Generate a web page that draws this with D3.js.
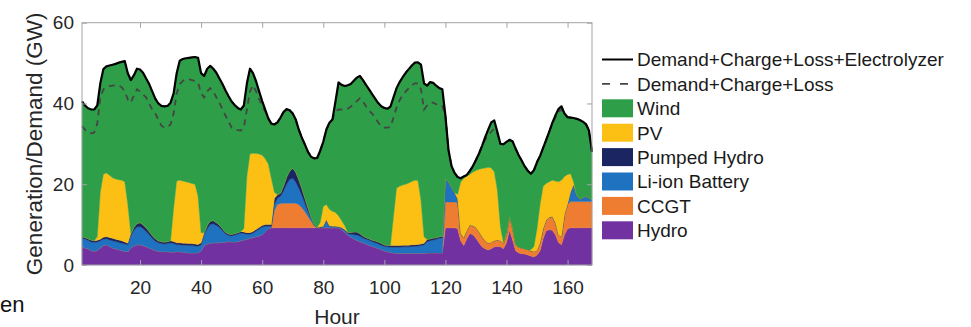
<!DOCTYPE html>
<html>
<head>
<meta charset="utf-8">
<script src="https://cdn.jsdelivr.net/npm/d3@7"></script>
<style>
  body { margin: 0; background: #fff; }
  svg { display: block; font-family: "Liberation Sans", Arial, sans-serif; }
</style>
</head>
<body>
<svg id="chart" width="971" height="327"></svg>
<script>
// hourly values, GW
const hours = d3.range(1, 169);

const hydro = [
  4.5, 4.2, 4.0, 3.6, 3.4, 3.6, 4.2, 4.8, 5.0, 4.6, 4.2, 4.0,
  3.8, 3.6, 3.4, 3.3, 4.2, 4.7, 5.0, 5.0, 4.8, 4.5, 4.2, 3.9,
  3.6, 3.4, 3.3, 3.3, 3.3, 3.2, 3.2, 3.3, 3.3, 3.2, 3.1, 3.0,
  3.0, 3.0, 3.0, 3.5, 4.8, 5.2, 5.4, 5.5, 5.5, 5.5, 5.6, 5.7,
  5.8, 5.7, 5.7, 5.8, 6.0, 6.2, 6.4, 6.6, 6.8, 7.0, 7.2, 7.5,
  8.2, 9.0, 9.2, 9.2, 9.2, 9.2, 9.2, 9.2, 9.2, 9.2, 9.2, 9.2,
  9.2, 9.2, 9.2, 9.2, 9.2, 9.2, 9.2, 9.2, 9.2, 9.2, 9.2, 9.2,
  9.2, 8.8, 8.2, 7.4, 6.9, 6.5, 6.1, 5.8, 5.5, 5.2, 4.9, 4.6,
  4.4, 4.1, 3.8, 3.5, 3.3, 3.1, 3.0, 2.9, 2.9, 2.9, 2.9, 2.9,
  2.9, 2.9, 2.9, 2.9, 2.9, 3.0, 3.0, 3.0, 3.0, 3.0, 3.0, 9.2,
  9.2, 9.2, 9.2, 9.0, 6.0, 4.8, 6.5, 7.8, 7.5, 6.6, 5.5, 4.5,
  4.0, 3.7, 4.0, 4.5, 4.6, 4.5, 4.0, 5.5, 8.6, 6.2, 3.5, 3.0,
  2.8, 2.7, 2.5, 2.2, 2.0, 2.5, 3.5, 6.5, 8.5, 8.7, 8.6, 7.5,
  5.6, 5.0, 7.5, 9.0, 9.2, 9.2, 9.2, 9.2, 9.2, 9.2, 9.2, 9.2
];

const ccgt = [
  0, 0, 0, 0, 0, 0, 0, 0, 0, 0, 0, 0,
  0, 0, 0, 0, 0, 0, 0, 0, 0, 0, 0, 0,
  0, 0, 0, 0, 0, 0, 0, 0, 0, 0, 0, 0,
  0, 0, 0, 0, 0, 0, 0, 0, 0, 0, 0, 0,
  0, 0, 0, 0, 0, 0, 0, 0, 0, 0, 0, 0,
  0, 0, 0, 4.3, 5.8, 6.0, 6.1, 6.1, 6.1, 6.1, 6.1, 5.8,
  5.0, 4.0, 2.8, 1.7, 0.5, 0, 0, 0, 0, 0, 0, 0,
  0, 0, 0, 0, 0, 0, 0, 0, 0, 0, 0, 0,
  0, 0, 0, 0, 0, 0, 0, 0, 0, 0, 0, 0,
  0, 0, 0, 0, 0, 0, 0, 0, 0, 0, 0, 6.4,
  6.4, 6.4, 6.4, 6.4, 1.8, 2.0, 2.0, 2.1, 2.2, 2.7, 2.7, 2.5,
  2.0, 1.7, 1.6, 1.5, 1.6, 1.5, 1.4, 2.0, 3.4, 2.9, 1.5, 1.4,
  1.4, 1.3, 1.3, 1.3, 1.3, 1.1, 2.0, 2.5, 2.6, 3.1, 3.4, 3.0,
  1.9, 2.0, 5.0, 6.0, 6.5, 6.5, 6.5, 6.5, 6.5, 6.5, 6.5, 6.5
];

const liion = [
  2.2, 2.2, 2.1, 2.1, 2.2, 2.1, 1.8, 1.6, 1.5, 1.6, 1.8, 1.8,
  1.8, 1.8, 1.8, 1.7, 3.0, 3.9, 4.4, 4.5, 4.2, 3.8, 3.3, 2.7,
  2.3, 2.1, 2.0, 1.9, 2.0, 2.3, 2.1, 1.7, 1.7, 1.7, 1.8, 1.8,
  1.8, 1.7, 1.6, 1.5, 2.7, 3.8, 4.6, 4.7, 4.3, 3.8, 2.9, 2.0,
  1.5, 1.5, 1.7, 1.8, 1.9, 1.6, 1.2, 1.0, 1.1, 1.4, 1.7, 1.9,
  1.4, 0.6, 0.4, 1.5, 1.5, 1.8, 3.0, 4.7, 5.9, 6.2, 5.2, 4.0,
  3.0, 2.0, 1.2, 0.6, 0.2, 0, 0.1, 0.3, 1.8, 0.4, 0.3, 0.3,
  0.2, 0.3, 0.4, 0.4, 0.7, 1.0, 1.3, 1.3, 1.2, 1.2, 1.2, 1.2,
  1.1, 1.1, 1.1, 1.1, 1.2, 1.3, 1.4, 1.5, 1.5, 1.6, 1.6, 1.6,
  1.7, 1.7, 1.8, 1.9, 2.1, 2.8, 3.0, 3.2, 3.4, 3.6, 3.7, 5.6,
  4.9, 3.6, 2.2, 0.9, 0, 0, 0, 0, 0, 0, 0, 0,
  0, 0, 0, 0, 0, 0, 0, 0, 0, 0, 0, 0,
  0, 0, 0, 0, 0, 0, 0, 0, 0, 0, 0, 0,
  0, 0, 0, 0, 2.3, 4.1, 1.5, 0.5, 0.9, 1.2, 0.8, 0.3
];

const pumped = [
  0.3, 0.4, 0.4, 0.5, 0.4, 0.4, 0.4, 0.5, 0.5, 0.6, 0.6, 0.6,
  0.6, 0.6, 0.5, 0.4, 0.6, 0.7, 0.9, 1.0, 1.0, 0.9, 0.8, 0.7,
  0.6, 0.5, 0.5, 0.5, 0.5, 0.5, 0.5, 0.5, 0.5, 0.5, 0.5, 0.5,
  0.5, 0.5, 0.5, 0.5, 0.5, 0.8, 0.9, 0.8, 0.7, 0.6, 0.5, 0.4,
  0.4, 0.4, 0.4, 0.4, 0.4, 0.4, 0.4, 0.4, 0.4, 0.4, 0.4, 0.4,
  0.4, 0.4, 0.4, 1.5, 0.9, 0.8, 1.3, 1.8, 2.1, 2.5, 2.5, 2.2,
  1.8, 1.4, 1.0, 0.5, 0.2, 0.1, 0.1, 0.1, 0.2, 0.1, 0.1, 0.1,
  0.1, 0.2, 0.2, 0.3, 0.5, 0.7, 0.8, 0.7, 0.5, 0.4, 0.4, 0.4,
  0.5, 0.5, 0.5, 0.4, 0.4, 0.4, 0.4, 0.4, 0.4, 0.4, 0.4, 0.4,
  0.4, 0.4, 0.4, 0.4, 0.4, 0.5, 0.5, 0.5, 0.4, 0.4, 0.4, 0.1,
  0.1, 0.1, 0.1, 0.1, 0, 0, 0, 0, 0, 0, 0, 0,
  0, 0, 0, 0, 0, 0, 0, 0, 0, 0, 0, 0,
  0, 0, 0, 0, 0, 0, 0, 0, 0, 0, 0, 0,
  0, 0, 0, 0, 0.1, 0.1, 0.1, 0.1, 0.1, 0.1, 0.1, 0.1
];

const pv = [
  0, 0, 0, 0, 0, 0.9, 11.6, 15.6, 15.8, 15.4, 15.0, 14.9,
  14.9, 15.0, 14.9, 9.6, 0, 0, 0, 0, 0, 0, 0, 0,
  0, 0, 0, 0, 0, 0, 8.2, 15.3, 15.5, 15.4, 15.2, 15.1,
  14.9, 14.8, 11.9, 2.5, 0, 0, 0, 0, 0, 0, 0, 0,
  0, 0, 0, 0, 0, 0.8, 14.0, 19.5, 19.4, 18.8, 18.2, 17.4,
  16.3, 15.0, 11.5, 1.5, 0, 0, 0, 0, 0, 0, 0, 0,
  0, 0, 0, 0, 0, 0, 1.1, 4.9, 3.8, 4.1, 3.7, 3.4,
  2.7, 1.7, 1.0, 0.1, 0, 0, 0, 0, 0, 0, 0, 0,
  0, 0, 0, 0, 0, 0, 7.2, 14.2, 14.7, 14.9, 15.1, 15.4,
  15.7, 16.0, 15.8, 10.8, 1.6, 0, 0, 0, 0, 0, 0, 0,
  0, 0, 0, 1.1, 12.7, 14.7, 13.5, 12.5, 13.3, 14.1, 15.5, 16.9,
  18.0, 18.8, 18.4, 17.1, 12.4, 3.5, 0.2, 0.3, 0.2, 0.2, 0, 0,
  0, 0, 0, 0.3, 1.3, 5.4, 9.5, 10.5, 9.1, 8.8, 9.0, 10.3,
  13.1, 14.0, 9.4, 7.4, 4.5, 0.6, 0, 0, 0, 0, 0, 0
];

const wind = [
  33.5, 32.7, 32.3, 32.3, 32.5, 32.5, 27.0, 26.0, 26.4, 27.2, 28.0, 28.5,
  29.0, 29.3, 29.9, 32.5, 38.0, 37.7, 38.3, 37.9, 37.6, 37.0, 36.5, 35.7,
  34.7, 34.0, 33.6, 33.6, 33.6, 34.2, 28.5, 26.7, 29.6, 30.2, 30.6, 30.9,
  31.2, 31.5, 34.3, 39.5, 38.8, 38.8, 38.4, 37.6, 37.1, 36.3, 35.8, 35.1,
  34.1, 32.9, 31.8, 30.9, 30.2, 30.5, 23.0, 21.1, 19.8, 17.9, 15.5, 13.4,
  12.2, 11.3, 13.5, 16.8, 17.9, 18.7, 18.3, 16.8, 15.0, 13.5, 13.0, 12.3,
  12.5, 13.2, 13.8, 14.8, 16.3, 17.2, 17.8, 16.0, 18.5, 21.4, 22.7, 27.5,
  33.0, 33.6, 34.5, 36.3, 36.7, 37.4, 38.2, 39.0, 38.6, 37.8, 37.0, 36.1,
  35.2, 34.4, 33.9, 33.9, 33.8, 34.4, 29.5, 24.8, 25.8, 26.7, 27.6, 28.2,
  28.7, 29.1, 29.3, 33.6, 38.0, 38.1, 38.8, 38.4, 37.6, 36.8, 36.4, 15.7,
  7.9, 5.2, 4.9, 4.3, 1.0, 0.4, 0.3, 0.9, 1.5, 2.6, 3.9, 5.6,
  7.6, 9.3, 11.3, 12.7, 14.4, 20.5, 24.3, 22.7, 18.8, 21.3, 23.8, 22.8,
  21.6, 20.4, 19.5, 18.8, 18.9, 16.5, 12.0, 9.5, 10.8, 12.4, 14.2, 16.2,
  18.0, 18.3, 15.6, 14.2, 13.9, 15.9, 18.9, 19.6, 18.8, 17.9, 16.7, 11.9
];

// Demand+Charge+Loss+Electrolyzer
const demandElec = [
  40.5, 39.5, 38.8, 38.5, 38.5, 39.5, 45.0, 48.5, 49.2, 49.4, 49.6, 49.8,
  50.1, 50.3, 50.5, 47.5, 45.8, 47.0, 48.6, 48.4, 47.6, 46.2, 44.8, 43.0,
  41.2, 40.0, 39.4, 39.3, 39.4, 40.2, 42.5, 47.5, 50.6, 51.0, 51.2, 51.3,
  51.4, 51.5, 51.3, 47.5, 46.8, 48.6, 49.3, 48.6, 47.6, 46.2, 44.8, 43.2,
  41.8, 40.5, 39.6, 38.9, 38.5, 39.5, 45.0, 48.6, 47.5, 45.5, 43.0, 40.6,
  38.5, 36.3, 35.0, 34.8, 35.3, 36.5, 37.9, 38.6, 38.3, 37.5, 36.0, 33.5,
  31.5, 29.8, 28.0, 26.8, 26.4, 26.5, 28.3, 30.5, 33.5, 35.2, 36.0, 40.5,
  45.2, 44.6, 44.3, 44.5, 44.8, 45.6, 46.4, 46.8, 45.8, 44.6, 43.5, 42.3,
  41.2, 40.1, 39.3, 38.9, 38.7, 39.2, 41.5, 43.8, 45.3, 46.5, 47.6, 48.5,
  49.4, 50.1, 50.2, 49.6, 45.0, 44.4, 45.3, 45.1, 44.4, 43.8, 43.5, 37.0,
  28.5, 24.5, 22.8, 21.8, 21.5, 21.9, 22.3, 23.3, 24.5, 26.0, 27.6, 29.5,
  31.6, 33.5, 35.3, 35.8, 33.0, 30.0, 29.9, 30.5, 31.0, 30.6, 28.8, 27.2,
  25.8, 24.4, 23.3, 22.6, 23.5, 25.5, 27.0, 29.0, 31.0, 33.0, 35.2, 37.0,
  38.6, 39.3, 37.5, 36.6, 36.5, 36.4, 36.2, 35.9, 35.5, 34.9, 33.3, 28.0
];

// Demand+Charge+Loss
const demand = [
  34.4, 33.5, 32.8, 32.6, 32.8, 35.0, 41.5, 43.5, 44.0, 44.3, 44.4, 44.5,
  44.5, 44.0, 43.0, 41.0, 40.2, 42.0, 43.5, 43.0, 42.2, 41.5, 40.0, 38.5,
  37.5, 36.0, 34.5, 34.0, 34.2, 34.8, 37.5, 42.5, 44.8, 45.6, 46.0, 46.0,
  45.8, 45.6, 45.2, 42.5, 41.5, 43.0, 43.8, 43.0, 41.5, 40.2, 38.5, 37.0,
  35.5, 34.0, 33.5, 33.4, 33.3, 34.0, 38.5, 43.0, 44.5, 43.0, 41.0, 39.5,
  38.0, 36.3, 35.0, 34.8, 35.3, 36.5, 37.9, 38.6, 38.3, 37.5, 36.0, 33.5,
  31.5, 29.8, 28.0, 26.8, 26.4, 26.5, 28.3, 30.5, 33.5, 35.2, 36.0, 38.0,
  38.5, 38.5, 38.5, 38.7, 39.2, 39.8, 40.6, 41.3, 40.5, 39.3, 38.2, 37.5,
  36.5, 35.3, 34.3, 34.0, 34.0, 34.2, 36.5, 39.0, 40.8, 42.0, 43.0, 43.8,
  44.5, 45.0, 45.0, 43.5, 38.5, 39.5, 40.2, 40.2, 39.8, 39.4, 39.4, 37.0,
  28.5, 24.5, 22.8, 21.8, 21.5, 21.9, 22.3, 23.3, 24.5, 26.0, 27.6, 29.5,
  31.0, 32.0, 33.0, 33.8, 32.5, 30.0, 29.9, 30.5, 31.0, 30.6, 28.8, 27.2,
  25.8, 24.4, 23.3, 22.6, 23.5, 25.5, 27.0, 29.0, 31.0, 33.0, 35.0, 36.5,
  37.8, 38.5, 37.5, 36.6, 36.5, 36.4, 36.2, 35.9, 35.5, 34.9, 33.3, 28.0
];

const xTicks = [20, 40, 60, 80, 100, 120, 140, 160];
const yTicks = [0, 20, 40, 60];

// stacked bottom -> top
const layers = [
  { key: "hydro", label: "Hydro", color: "#7231a1", values: hydro },
  { key: "ccgt", label: "CCGT", color: "#ee7d31", values: ccgt },
  { key: "liion", label: "Li-ion Battery", color: "#1f72bf", values: liion },
  { key: "pumped", label: "Pumped Hydro", color: "#1b2562", values: pumped },
  { key: "pv", label: "PV", color: "#fcbf14", values: pv },
  { key: "wind", label: "Wind", color: "#2e9f48", values: wind }
];

const rows = hours.map((h, i) => {
  const r = { hour: h };
  layers.forEach(l => { r[l.key] = l.values[i]; });
  return r;
});

const svg = d3.select("#chart");
const plotL = 82, plotR = 592, plotT = 22.7, plotB = 265;

const x = d3.scaleLinear().domain([1, 168]).range([plotL, plotR]);
const y = d3.scaleLinear().domain([0, 60]).range([plotB, plotT]);

const series = d3.stack().keys(layers.map(l => l.key))(rows);
const color = d3.scaleOrdinal(layers.map(l => l.key), layers.map(l => l.color));

const area = d3.area()
  .x(d => x(d.data.hour))
  .y0(d => y(d[0]))
  .y1(d => y(d[1]));

svg.append("g")
  .selectAll("path")
  .data(series)
  .join("path")
  .attr("fill", d => color(d.key))
  .attr("stroke", d => color(d.key))
  .attr("stroke-width", 0.4)
  .attr("d", area);

const line = vals => d3.line()
  .x((d, i) => x(hours[i]))
  .y(d => y(d))(vals);

svg.append("path")
  .attr("d", line(demand))
  .attr("fill", "none")
  .attr("stroke", "#454545")
  .attr("stroke-width", 1.8)
  .attr("stroke-dasharray", "6,5");

svg.append("path")
  .attr("d", line(demandElec))
  .attr("fill", "none")
  .attr("stroke", "#000")
  .attr("stroke-width", 2.2)
  .attr("stroke-linejoin", "round");

// axes box, ticks point inward
const frame = "#a3a3a3";
const styleAxis = g => {
  g.select(".domain").remove();
  g.selectAll(".tick line").attr("stroke", frame);
  g.selectAll(".tick text").attr("fill", "#262626").attr("font-size", 19);
};

svg.append("g")
  .attr("transform", `translate(0,${plotB})`)
  .call(d3.axisBottom(x).tickValues(xTicks).tickSize(-5).tickPadding(16).tickFormat(d3.format("d")))
  .call(styleAxis);
svg.append("g")
  .attr("transform", `translate(0,${plotT})`)
  .call(d3.axisTop(x).tickValues(xTicks).tickSize(-5).tickFormat(""))
  .call(styleAxis);
svg.append("g")
  .attr("transform", `translate(${plotL},0)`)
  .call(d3.axisLeft(y).tickValues(yTicks).tickSize(-5).tickPadding(8))
  .call(styleAxis);
svg.append("g")
  .attr("transform", `translate(${plotR},0)`)
  .call(d3.axisRight(y).tickValues(yTicks).tickSize(-5).tickFormat(""))
  .call(styleAxis);

svg.append("rect")
  .attr("x", plotL).attr("y", plotT)
  .attr("width", plotR - plotL).attr("height", plotB - plotT)
  .attr("fill", "none").attr("stroke", frame).attr("stroke-width", 1);

// axis titles
svg.append("text")
  .attr("transform", `translate(42,${(plotT + plotB) / 2}) rotate(-90)`)
  .attr("text-anchor", "middle")
  .attr("font-size", 22.5)
  .attr("fill", "#262626")
  .text("Generation/Demand (GW)");

svg.append("text")
  .attr("x", 337).attr("y", 324)
  .attr("text-anchor", "middle")
  .attr("font-size", 21)
  .attr("fill", "#262626")
  .text("Hour");

svg.append("text")
  .attr("x", 0).attr("y", 312)
  .attr("font-size", 22)
  .attr("fill", "#111")
  .text("en");

// legend
const legendItems = [
  { label: "Demand+Charge+Loss+Electrolyzer", type: "solid" },
  { label: "Demand+Charge+Loss", type: "dashed" },
  ...layers.slice().reverse().map(l => ({ label: l.label, type: "patch", color: l.color }))
];

const legend = svg.append("g")
  .selectAll("g")
  .data(legendItems)
  .join("g")
  .attr("transform", (d, i) => `translate(602,${59.5 + i * 24.4})`);

legend.filter(d => d.type === "patch").append("rect")
  .attr("x", 0).attr("y", -9)
  .attr("width", 31).attr("height", 18)
  .attr("fill", d => d.color);

legend.filter(d => d.type === "solid").append("line")
  .attr("x1", 0).attr("x2", 31)
  .attr("stroke", "#000").attr("stroke-width", 2);

legend.filter(d => d.type === "dashed").append("line")
  .attr("x1", 0).attr("x2", 31)
  .attr("stroke", "#454545").attr("stroke-width", 1.8)
  .attr("stroke-dasharray", "8,10");

legend.append("text")
  .attr("x", 35).attr("dy", "0.36em")
  .attr("font-size", 19)
  .attr("fill", "#1a1a1a")
  .text(d => d.label);
</script>
</body>
</html>
